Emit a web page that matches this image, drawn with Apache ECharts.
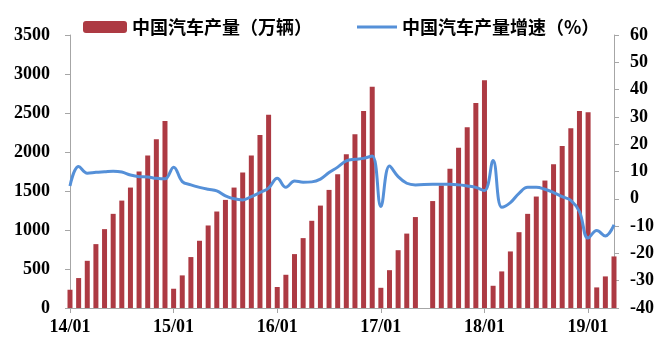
<!DOCTYPE html>
<html>
<head>
<meta charset="utf-8">
<script src="https://cdn.jsdelivr.net/npm/echarts@6/dist/echarts.min.js"></script>
<style>
  html, body { margin: 0; padding: 0; background: #fff; }
  #chart { width: 659px; height: 338px; }
</style>
</head>
<body>
<div id="chart"></div>
<script>
// 月份类目 14/01 起，共 64 个位置（17 年中有一个空位）
const categories = [];
for (let y = 14; y <= 19; y++) {
  for (let m = 1; m <= 12; m++) {
    if (categories.length < 64) categories.push(y + '/' + (m < 10 ? '0' + m : m));
  }
}

// 中国汽车产量（万辆），累计值
const output = [
  234, 384, 605, 819, 1011, 1207, 1377, 1544, 1749, 1954, 2163, 2398,
  247, 418, 653, 862, 1058, 1237, 1386, 1544, 1736, 1954, 2218, 2478,
  269, 426, 691, 896, 1118, 1313, 1514, 1715, 1971, 2227, 2526, 2837,
  259, 485, 741, 954, 1166, null, 1371, 1571, 1784, 2053, 2316, 2627, 2921,
  285, 469, 725, 972, 1207, 1429, 1634, 1843, 2078, 2304, 2526, 2509,
  264, 405, 661
];

// 中国汽车产量增速（%）
const growth = [
  4.7, 11.8, 9.4, 9.7, 9.9, 10.1, 9.8, 8.7, 8.1, 8.0, 7.5, 7.3,
  11.6, 6.3, 5.1, 4.2, 3.5, 2.9, 1.1, 0, -0.4, 0.8, 2.3, 3.9,
  7.5, 4.2, 6.5, 6.1, 6.2, 7.2, 9.6, 11.6, 13.9, 14.5, 14.8, 15.7,
  -2.8, 12.0, 8.1, 5.7, 5.1, null, 5.3, 5.3, 5.3, 5.1, 4.7, 4.2,
  3.0, 14.0, -3.1, -1.4, 2.0, 4.2, 4.2, 3.5, 2.3, 0.8, -0.6, -4.7,
  -14.4, -11.6, -13.6, -9.5
];

const barName = '中国汽车产量（万辆）';
const lineName = '中国汽车产量增速（%）';

const myChart = echarts.init(document.getElementById('chart'));

const axisFont = {
  color: '#000',
  fontFamily: 'Liberation Serif',
  fontWeight: 'bold',
  fontSize: 18
};
const legendFont = {
  color: '#000',
  fontFamily: 'Noto Sans CJK SC',
  fontWeight: 'bold',
  fontSize: 18
};
const axisLine = { show: true, lineStyle: { color: '#a6a6a6', width: 1 } };
const plain = (v) => String(v);

const option = {
  animation: false,
  legend: [{
    data: [barName],
    left: 78,
    top: 13,
    itemWidth: 44,
    itemHeight: 12,
    textStyle: legendFont
  }, {
    data: [{ name: lineName, icon: 'rect' }],
    left: 352,
    top: 13,
    itemWidth: 40,
    itemHeight: 3,
    textStyle: legendFont
  }],
  grid: {
    left: 70,
    right: 45,
    top: 35,
    bottom: 30
  },
  xAxis: {
    type: 'category',
    data: categories,
    boundaryGap: false,
    axisLine: axisLine,
    axisTick: { show: true, interval: 11, length: 5, lineStyle: { color: '#a6a6a6' } },
    axisLabel: Object.assign({ interval: 11, margin: 10 }, axisFont),
    splitLine: { show: false }
  },
  yAxis: [{
    type: 'value',
    min: 0,
    max: 3500,
    interval: 500,
    axisLine: axisLine,
    axisTick: { show: true, length: 5, lineStyle: { color: '#a6a6a6' } },
    axisLabel: Object.assign({ margin: 20, formatter: plain }, axisFont),
    splitLine: { show: false }
  }, {
    type: 'value',
    min: -40,
    max: 60,
    interval: 10,
    axisLine: axisLine,
    axisTick: { show: true, length: 5, lineStyle: { color: '#a6a6a6' } },
    axisLabel: Object.assign({ margin: 16, formatter: plain }, axisFont),
    splitLine: { show: false }
  }],
  series: [{
    name: barName,
    type: 'bar',
    data: output,
    barWidth: 5,
    clip: false,
    itemStyle: { color: '#ad3a43' }
  }, {
    name: lineName,
    type: 'line',
    yAxisIndex: 1,
    data: growth,
    smooth: 0.4,
    connectNulls: true,
    symbol: 'none',
    z: 5,
    lineStyle: { color: '#5590d8', width: 3 },
    itemStyle: { color: '#5590d8' }
  }]
};

myChart.setOption(option);
</script>
</body>
</html>
